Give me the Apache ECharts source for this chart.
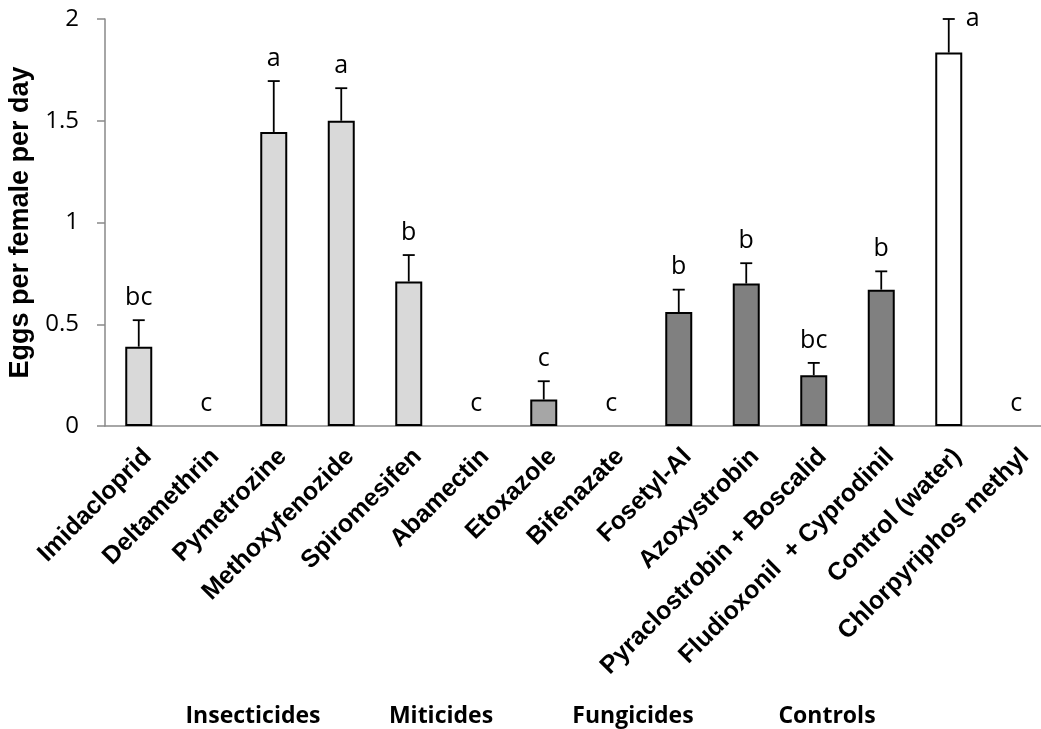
<!DOCTYPE html>
<html><head><meta charset="utf-8">
<script src="https://cdn.jsdelivr.net/npm/echarts@6/dist/echarts.min.js"></script>
<style>html,body{margin:0;padding:0;background:#fff}#c{width:1041px;height:729px}</style>
</head><body><div id="c"></div>
<script>
const categories = ['Imidacloprid','Deltamethrin','Pymetrozine','Methoxyfenozide','Spiromesifen','Abamectin','Etoxazole','Bifenazate','Fosetyl-Al','Azoxystrobin','Pyraclostrobin + Boscalid','Fludioxonil  + Cyprodinil','Control (water)','Chlorpyriphos methyl'];
const types = ['ins','ins','ins','ins','ins','mit','mit','mit','fun','fun','fun','fun','con','con'];
const values = [0.39, 0, 1.445, 1.50, 0.71, 0, 0.13, 0, 0.56, 0.70, 0.25, 0.67, 1.835, 0];
const errors = [0.13, 0, 0.25, 0.16, 0.13, 0, 0.09, 0, 0.11, 0.10, 0.06, 0.09, 0.165, 0];
const letters = ['bc','c','a','a','b','c','c','c','b','b','bc','b','a','c'];
const groupLabels = ['Insecticides','Miticides','Fungicides','Controls'];
const yMin = 0, yMax = 2, yInterval = 0.5;

const typeColor = {ins:'#d9d9d9', mit:'#a6a6a6', fun:'#808080', con:'#ffffff'};
const axisColor = '#898989';
const groupX = [253, 441, 633, 827];

const chart = echarts.init(document.getElementById('c'));
chart.setOption({
  animation: false,
  backgroundColor: '#fff',
  grid: {left: 105, top: 19, width: 945, height: 407, containLabel: false, outerBoundsMode: 'none'},
  xAxis: {
    type: 'category', data: categories,
    axisLine: {lineStyle: {color: axisColor, width: 1.5}},
    axisTick: {length: 6, lineStyle: {color: axisColor, width: 1.5}},
    axisLabel: {rotate: 45, interval: 0, margin: 18, align: 'right', verticalAlign: 'top', color: '#000', fontFamily: 'Liberation Sans', fontWeight: 'bold', fontSize: 25}
  },
  yAxis: {
    type: 'value', min: yMin, max: yMax, interval: yInterval,
    name: 'Eggs per female per day', nameLocation: 'middle', nameGap: 58,
    nameTextStyle: {color: '#000', fontFamily: 'Liberation Sans', fontWeight: 'bold', fontSize: 27},
    axisLine: {show: true, lineStyle: {color: axisColor, width: 1.5}},
    axisTick: {show: true, length: 8, lineStyle: {color: axisColor, width: 1.5}},
    axisLabel: {margin: 26, color: '#000', fontFamily: 'Open Sans', fontSize: 24},
    splitLine: {show: false}
  },
  series: [
    {
      type: 'bar', barWidth: 27, z: 2,
      data: values.map((v, i) => ({value: v, itemStyle: {color: typeColor[types[i]], borderColor: '#000', borderWidth: v > 0 ? 2 : 0}}))
    },
    {
      type: 'custom', z: 3,
      data: values.map((v, i) => [i, v, errors[i]]),
      renderItem: function (params, api) {
        const i = api.value(0), v = api.value(1), e = api.value(2);
        const base = api.coord([i, v]);
        const top = api.coord([i, v + e]);
        const cs = params.coordSys;
        const children = [];
        if (e > 0) {
          children.push({type: 'line', shape: {x1: base[0], y1: base[1], x2: top[0], y2: top[1]}, style: {stroke: '#000', lineWidth: 1.8}});
          children.push({type: 'line', shape: {x1: top[0] - 6, y1: top[1], x2: top[0] + 6, y2: top[1]}, style: {stroke: '#000', lineWidth: 1.8}});
        }
        let tx = top[0], ty = top[1] - 10, align = 'center', va = 'bottom';
        if (ty - 26 < cs.y) { tx = top[0] + 17; ty = top[1]; align = 'left'; va = 'middle'; }
        children.push({type: 'text', style: {text: letters[params.dataIndex], x: tx, y: ty, align: align, verticalAlign: va, fontFamily: 'Open Sans', fontSize: 25, fill: '#000'}});
        return {type: 'group', children: children};
      }
    }
  ],
  graphic: groupLabels.map((t, k) => ({
    type: 'text', x: groupX[k], y: 716,
    style: {text: t, fontFamily: 'Open Sans', fontWeight: 'bold', fontSize: 23, fill: '#000', align: 'center', verticalAlign: 'middle'}
  }))
});
</script></body></html>
